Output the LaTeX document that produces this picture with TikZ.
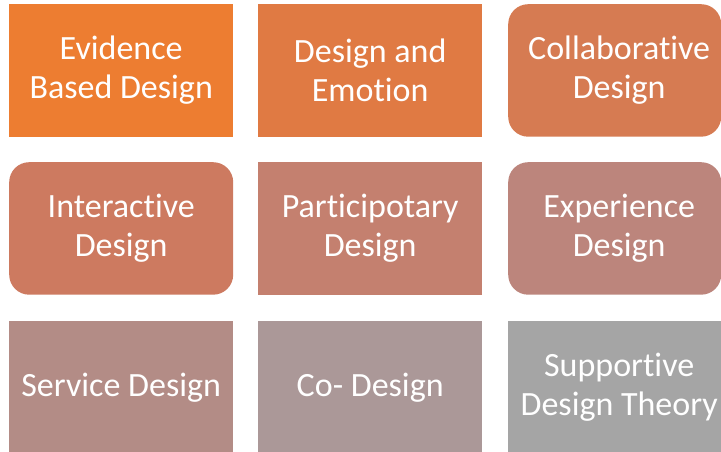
\documentclass[tikz,border=0pt]{standalone}
\usepackage{fontspec}
\setmainfont[Ligatures=NoCommon]{Carlito}
\definecolor{tileA}{HTML}{ED7D31}
\definecolor{tileB}{HTML}{E07A43}
\definecolor{tileC}{HTML}{D67B52}
\definecolor{tileD}{HTML}{CD7A60}
\definecolor{tileE}{HTML}{C4806F}
\definecolor{tileF}{HTML}{BC857C}
\definecolor{tileG}{HTML}{B38C86}
\definecolor{tileH}{HTML}{AB9898}
\definecolor{tileI}{HTML}{A5A5A5}
\begin{document}
\begin{tikzpicture}[x=1pt,y=-1pt,
  tile/.style={anchor=north west,minimum width=224pt,minimum height=132.5pt,inner sep=0pt,
    text=white,align=center,font=\fontsize{34}{39}\selectfont},
  narrow/.style={minimum width=213pt},
  round/.style={rounded corners=20pt}]
\useasboundingbox (0,0) rectangle (721,452);
% first row
\node[tile,fill=tileA] at (9,4) (evidence) {Evidence\\Based Design};
\node[tile,fill=tileB] at (258,4) (emotion) {Design and\\Emotion};
\node[tile,narrow,round,fill=tileC] at (508,4) (collab) {\hspace*{9pt}Collaborative\\\hspace*{9pt}Design};
% second row
\node[tile,round,fill=tileD] at (9,162) (interactive) {Interactive\\Design};
\node[tile,fill=tileE] at (258,162) (particip) {Participotary\\Design};
\node[tile,narrow,round,fill=tileF] at (508,162) (experience) {\hspace*{9pt}Experience\\\hspace*{9pt}Design};
% third row
\node[tile,fill=tileG] at (9,321) (service) {Service Design};
\node[tile,fill=tileH] at (258,321) (codesign) {Co- Design};
\node[tile,narrow,fill=tileI] at (508,321) (supportive) {\hspace*{9pt}Supportive\\\hspace*{9pt}Design Theory};
\end{tikzpicture}
\end{document}
